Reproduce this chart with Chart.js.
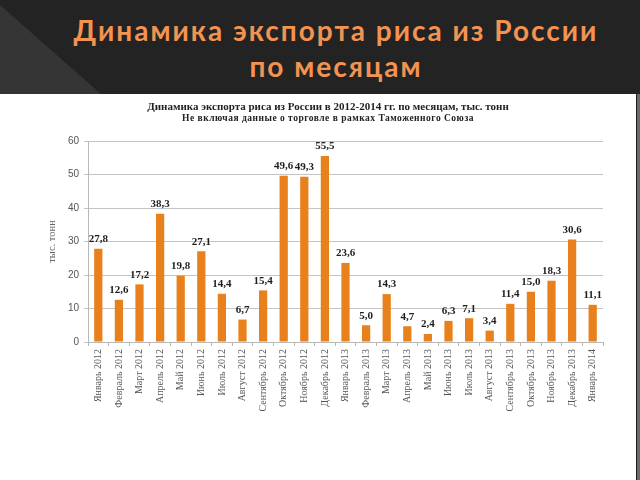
<!DOCTYPE html>
<html lang="ru">
<head>
<meta charset="utf-8">
<script src="https://cdn.jsdelivr.net/npm/chart.js@4"></script>
<style>
  html, body { margin: 0; padding: 0; }
  body { width: 640px; height: 480px; background: #232323; position: relative; overflow: hidden; }
  #shade { position: absolute; left: 0; top: 0; width: 640px; height: 94px;
           background: #353535; clip-path: polygon(0 5px, 101px 94px, 0 94px); }
  #head { position: absolute; left: 0; top: 12px; width: 672px; text-align: center;
          font: bold 28px Lato, "Open Sans", sans-serif; letter-spacing: 2px; color: #F29352; line-height: 36px; }
  #sheet { position: absolute; left: 0; top: 94px; width: 636px; height: 386px; background: #fff; }
  #edge { position: absolute; left: 636px; top: 94px; width: 4px; height: 386px; background: #6a6a6a;
          border-left: 1px solid #1a1a1a; box-sizing: border-box; }
  .ct { position: absolute; left: 0; width: 656px; text-align: center;
        font-family: "Liberation Serif", serif; font-weight: bold; color: #222; }
  #t1 { top: 100px; font-size: 11px; }
  #t2 { top: 113px; font-size: 9.5px; letter-spacing: 0.5px; }
  canvas { position: absolute; left: 0; top: 94px; }
</style>
</head>
<body>
<div id="shade"></div>
<div id="head">Динамика экспорта риса из России<br>по месяцам</div>
<div id="sheet"></div>
<div id="edge"></div>
<canvas id="riceChart" width="636" height="386"></canvas>
<div class="ct" id="t1">Динамика экспорта риса  из России в 2012-2014 гг. по месяцам, тыс. тонн</div>
<div class="ct" id="t2">Не включая данные о торговле  в рамках  Таможенного  Союза</div>
<script>
const months = [
  "Январь 2012", "Февраль 2012", "Март 2012", "Апрель 2012", "Май 2012", "Июнь 2012",
  "Июль 2012", "Август 2012", "Сентябрь 2012", "Октябрь 2012", "Ноябрь 2012", "Декабрь 2012",
  "Январь 2013", "Февраль 2013", "Март 2013", "Апрель 2013", "Май 2013", "Июнь 2013",
  "Июль 2013", "Август 2013", "Сентябрь 2013", "Октябрь 2013", "Ноябрь 2013", "Декабрь 2013",
  "Январь 2014"
];
const exportVolume = [
  27.8, 12.6, 17.2, 38.3, 19.8, 27.1, 14.4, 6.7, 15.4, 49.6, 49.3, 55.5,
  23.6, 5.0, 14.3, 4.7, 2.4, 6.3, 7.1, 3.4, 11.4, 15.0, 18.3, 30.6, 11.1
];
const yTicks = [0, 10, 20, 30, 40, 50, 60];

// подписи значений над столбиками
const valueLabels = {
  id: 'valueLabels',
  afterDatasetsDraw(chart) {
    const ctx = chart.ctx;
    const meta = chart.getDatasetMeta(0);
    ctx.save();
    ctx.font = 'bold 11px "Liberation Serif"';
    ctx.fillStyle = '#1e1e1e';
    ctx.textAlign = 'center';
    ctx.textBaseline = 'bottom';
    meta.data.forEach((bar, i) => {
      ctx.fillText(exportVolume[i].toFixed(1).replace('.', ','), bar.x, bar.y - 4);
    });
    ctx.restore();
  }
};

new Chart(document.getElementById('riceChart'), {
  type: 'bar',
  data: {
    labels: months,
    datasets: [{
      data: exportVolume,
      backgroundColor: '#E8811C',
      barPercentage: 0.4,
      categoryPercentage: 1.0
    }]
  },
  plugins: [valueLabels],
  options: {
    responsive: false,
    animation: false,
    layout: { padding: { top: 47, right: 33, bottom: 0, left: 0 } },
    plugins: { legend: { display: false }, tooltip: { enabled: false } },
    scales: {
      x: {
        grid: { drawOnChartArea: false, tickLength: 4, color: '#b8b8b8' },
        border: { color: '#b8b8b8' },
        ticks: {
          minRotation: 90, maxRotation: 90, autoSkip: false, padding: 3,
          color: '#555', font: { family: 'Liberation Serif', size: 10 }
        },
        afterFit: scale => { scale.height = 138; }
      },
      y: {
        min: 0, max: 60,
        afterBuildTicks: scale => { scale.ticks = yTicks.map(v => ({ value: v })); },
        grid: { color: '#c4c4c4', tickLength: 4 },
        border: { color: '#b8b8b8' },
        ticks: { padding: 5, color: '#555', font: { family: 'Liberation Sans', size: 10 } },
        title: {
          display: true, text: 'тыс. тонн', color: '#666',
          font: { family: 'Liberation Serif', size: 10.5 }, padding: { top: 46, bottom: 0 }
        },
        afterFit: scale => { scale.width = 88; }
      }
    }
  }
});
</script>
</body>
</html>
